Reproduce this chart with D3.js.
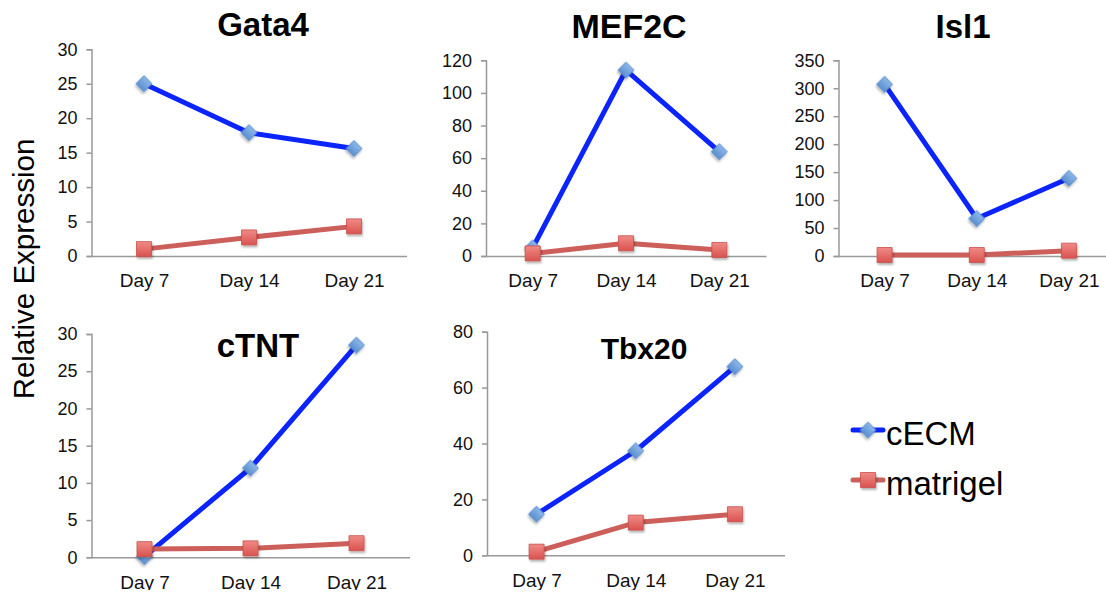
<!DOCTYPE html>
<html>
<head>
<meta charset="utf-8">
<script src="https://cdn.jsdelivr.net/npm/d3@7"></script>
<style>
  body { margin: 0; background: #fff; }
  svg { display: block; font-family: "Liberation Sans", Arial, sans-serif; }
</style>
</head>
<body>
<script>
// data
var days = ["Day 7", "Day 14", "Day 21"];
var genes = ["Gata4", "MEF2C", "Isl1", "cTNT", "Tbx20"];
var cecmValues = [
  [25, 17.9, 15.6],
  [5, 114, 64],
  [307, 67, 139],
  [0.1, 12, 28.5],
  [14.7, 37.4, 67.5]
];
var matrigelValues = [
  [1, 2.7, 4.3],
  [1.6, 7.8, 3.7],
  [1.8, 1.8, 9.5],
  [1.1, 1.2, 1.9],
  [1.3, 11.7, 14.7]
];
var yMaxes = [30, 120, 350, 30, 80];
var yTickSteps = [5, 20, 50, 5, 20];
var seriesNames = ["cECM", "matrigel"];

var w = 1106, h = 599;
var blue = "#0b24fb", red = "#cc5f5a";

// panel layout (pixels)
var panels = [
  {x0: 91.5, x1: 406.5, top: 49.3, bottom: 256, tx: 263, ty: 36, ts: 33},
  {x0: 486, x1: 766, top: 60.3, bottom: 256, tx: 629, ty: 38, ts: 34},
  {x0: 838.5, x1: 1115, top: 60.3, bottom: 256, tx: 963, ty: 38, ts: 33},
  {x0: 91.5, x1: 409.5, top: 334, bottom: 557.3, tx: 258, ty: 357, ts: 33},
  {x0: 487, x1: 784.5, top: 331.7, bottom: 555.3, tx: 644, ty: 359, ts: 30}
];

var svg = d3.select("body").append("svg")
  .attr("width", w)
  .attr("height", h);

var defs = svg.append("defs");
var shadow = defs.append("filter").attr("id", "shadow")
  .attr("x", "-50%").attr("y", "-50%").attr("width", "200%").attr("height", "200%");
shadow.append("feDropShadow").attr("dx", 1).attr("dy", 2).attr("stdDeviation", 1.2)
  .attr("flood-color", "#000").attr("flood-opacity", 0.3);

var gradBlue = defs.append("linearGradient").attr("id", "gBlue")
  .attr("x1", 0).attr("y1", 0).attr("x2", 0).attr("y2", 1);
gradBlue.append("stop").attr("offset", "0%").attr("stop-color", "#8cb8ea");
gradBlue.append("stop").attr("offset", "100%").attr("stop-color", "#5b8fd0");
var gradRed = defs.append("linearGradient").attr("id", "gRed")
  .attr("x1", 0).attr("y1", 0).attr("x2", 0).attr("y2", 1);
gradRed.append("stop").attr("offset", "0%").attr("stop-color", "#f08a86");
gradRed.append("stop").attr("offset", "100%").attr("stop-color", "#d9534f");

var diamond = d3.symbol().type(d3.symbolSquare).size(128);
var square = d3.symbol().type(d3.symbolSquare).size(225);

function drawMarkers(g, data, x, y, kind) {
  g.selectAll("path.m-" + kind)
    .data(data)
    .enter()
    .append("path")
    .attr("class", "m-" + kind)
    .attr("d", kind == "cecm" ? diamond : square)
    .attr("transform", function(d, i) {
      var t = "translate(" + x(days[i]) + "," + y(d) + ")";
      return kind == "cecm" ? t + " rotate(45)" : t;
    })
    .attr("fill", kind == "cecm" ? "url(#gBlue)" : "url(#gRed)")
    .attr("stroke", kind == "cecm" ? "#5a8bc8" : "#c9504c")
    .attr("stroke-width", 0.8)
    .attr("filter", "url(#shadow)");
}

panels.forEach(function(p, k) {
  var g = svg.append("g");
  var x = d3.scalePoint().domain(days).range([p.x0, p.x1]).padding(0.5);
  var y = d3.scaleLinear().domain([0, yMaxes[k]]).range([p.bottom, p.top]);

  var yAxis = d3.axisLeft(y)
    .tickValues(d3.range(0, yMaxes[k] + 1, yTickSteps[k]))
    .tickSize(5)
    .tickPadding(9);
  var ya = g.append("g").attr("transform", "translate(" + p.x0 + ",0)").call(yAxis);
  ya.select(".domain").attr("stroke", "#999").attr("stroke-width", 1.5);
  ya.selectAll(".tick line").attr("stroke", "#999").attr("stroke-width", 1.5);
  ya.selectAll(".tick text").attr("font-size", "18px").attr("fill", "#111")
    .attr("font-family", "Liberation Sans, Arial, sans-serif");

  var xAxis = d3.axisBottom(x).tickSize(0).tickPadding(18);
  var xa = g.append("g").attr("transform", "translate(0," + p.bottom + ")").call(xAxis);
  xa.select(".domain").attr("stroke", "#999").attr("stroke-width", 1.5);
  xa.selectAll(".tick text").attr("font-size", "19px").attr("fill", "#111")
    .attr("font-family", "Liberation Sans, Arial, sans-serif");

  var line = d3.line()
    .x(function(d, i) { return x(days[i]); })
    .y(function(d) { return y(d); });

  g.append("path").datum(cecmValues[k])
    .attr("d", line).attr("fill", "none")
    .attr("stroke", blue).attr("stroke-width", 5).attr("stroke-linejoin", "round");
  drawMarkers(g, cecmValues[k], x, y, "cecm");

  g.append("path").datum(matrigelValues[k])
    .attr("d", line).attr("fill", "none")
    .attr("stroke", red).attr("stroke-width", 5).attr("stroke-linejoin", "round");
  drawMarkers(g, matrigelValues[k], x, y, "mat");

  g.append("text")
    .attr("x", p.tx).attr("y", p.ty)
    .attr("text-anchor", "middle")
    .attr("font-size", p.ts + "px")
    .attr("font-weight", "bold")
    .text(genes[k]);
});

// clip bottom edge like the original crop
svg.append("rect").attr("x", 0).attr("y", 590).attr("width", w).attr("height", 10).attr("fill", "#fff");

// y title
svg.append("text")
  .attr("transform", "translate(34,269) rotate(-90)")
  .attr("text-anchor", "middle")
  .attr("font-size", "29.5px")
  .text("Relative Expression");

// legend
var legend = svg.append("g");
var legendY = [430, 480];
legend.selectAll("line")
  .data(seriesNames)
  .enter()
  .append("line")
  .attr("x1", 853).attr("x2", 883)
  .attr("y1", function(d, i) { return legendY[i]; })
  .attr("y2", function(d, i) { return legendY[i]; })
  .attr("stroke", function(d, i) { return i == 0 ? blue : red; })
  .attr("stroke-width", 5)
  .attr("stroke-linecap", "round");
legend.append("path").attr("d", diamond)
  .attr("transform", "translate(868," + legendY[0] + ") rotate(45)")
  .attr("fill", "url(#gBlue)").attr("stroke", "#5a8bc8").attr("stroke-width", 0.8)
  .attr("filter", "url(#shadow)");
legend.append("path").attr("d", square)
  .attr("transform", "translate(868," + legendY[1] + ")")
  .attr("fill", "url(#gRed)").attr("stroke", "#c9504c").attr("stroke-width", 0.8)
  .attr("filter", "url(#shadow)");
legend.selectAll("text")
  .data(seriesNames)
  .enter()
  .append("text")
  .attr("x", 886)
  .attr("y", function(d, i) { return legendY[i] + 15; })
  .attr("font-size", "33px")
  .text(function(d) { return d; });
</script>
</body>
</html>
